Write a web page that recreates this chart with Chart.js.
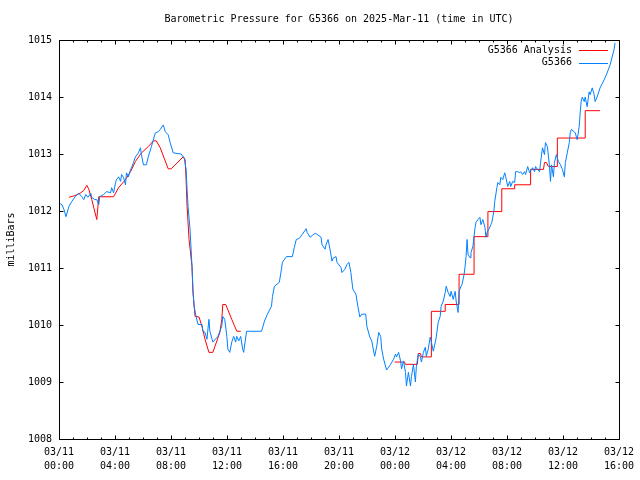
<!DOCTYPE html>
<html>
<head>
<meta charset="utf-8">
<script src="https://cdn.jsdelivr.net/npm/chart.js@4/dist/chart.umd.min.js"></script>
<style>
html,body{margin:0;padding:0;background:#fff;}
canvas{display:block;}
</style>
</head>
<body>
<canvas id="c" width="640" height="480"></canvas>
<script>
// ---- data (hours since 03/11 00:00 UTC, pressure in mb) ----
const chartTitle = "Barometric Pressure for G5366 on 2025-Mar-11 (time in UTC)";
const yAxisTitle = "milliBars";
const seriesNames = ["G5366 Analysis", "G5366"];

const xTickHours = [0, 4, 8, 12, 16, 20, 24, 28, 32, 36, 40];
const xTickDates = ["03/11", "03/11", "03/11", "03/11", "03/11", "03/11", "03/12", "03/12", "03/12", "03/12", "03/12"];
const xTickTimes = ["00:00", "04:00", "08:00", "12:00", "16:00", "20:00", "00:00", "04:00", "08:00", "12:00", "16:00"];
const yTicks = [1008, 1009, 1010, 1011, 1012, 1013, 1014, 1015];

const blueHours = [
 0.07,0.21,0.35,0.50,0.71,0.92,1.21,1.42,1.63,1.77,1.91,2.06,2.27,2.34,2.55,2.70,2.84,2.91,3.19,3.40,
 3.69,3.76,3.90,4.04,4.11,4.26,4.40,4.47,4.61,4.75,4.82,4.96,5.11,5.18,5.32,5.46,5.67,5.82,5.89,6.03,
 6.24,6.38,6.60,6.88,7.09,7.23,7.45,7.59,7.80,7.94,8.16,8.72,8.87,8.94,9.08,9.15,9.22,9.36,9.50,9.57,
 9.65,9.79,9.93,10.21,10.28,10.43,10.57,10.71,10.78,10.99,11.35,11.63,11.70,11.84,11.99,12.06,12.20,12.34,12.48,12.62,
 12.70,12.84,12.98,13.12,13.19,13.40,14.47,14.68,14.89,15.18,15.25,15.39,15.74,15.89,15.96,16.24,16.67,16.81,16.95,17.16,
 17.38,17.66,17.73,17.94,18.09,18.30,18.44,18.72,18.79,19.01,19.08,19.22,19.36,19.50,19.57,19.79,19.86,20.14,20.21,20.43,
 20.57,20.71,20.85,20.99,21.21,21.35,21.49,21.63,21.91,21.99,22.20,22.34,22.55,22.70,22.84,22.98,23.05,23.19,23.40,23.69,
 23.90,24.04,24.11,24.26,24.40,24.47,24.61,24.75,24.82,24.96,25.11,25.18,25.32,25.46,25.53,25.67,25.82,25.89,26.03,26.17,
 26.24,26.38,26.52,26.60,26.74,26.88,26.95,27.09,27.23,27.30,27.45,27.59,27.66,27.80,27.94,28.01,28.16,28.30,28.37,28.51,
 28.58,28.72,28.79,28.94,29.01,29.08,29.15,29.22,29.36,29.43,29.57,29.72,29.79,29.93,30.07,30.14,30.28,30.43,30.50,30.57,
 30.71,30.85,30.92,31.06,31.13,31.28,31.35,31.49,31.56,31.70,31.84,31.91,32.06,32.20,32.27,32.41,32.55,32.62,32.77,32.91,
 32.98,33.12,33.26,33.33,33.48,33.62,33.83,33.97,34.04,34.18,34.33,34.40,34.54,34.68,34.75,34.89,35.04,35.11,35.18,35.32,
 35.39,35.53,35.67,35.82,35.96,36.10,36.17,36.31,36.45,36.52,36.60,36.81,36.88,37.02,37.16,37.23,37.30,37.38,37.52,37.59,
 37.73,37.87,37.94,38.09,38.23,38.30,38.44,38.65,38.94,39.15,39.36,39.65,39.72
];
const bluePressure = [
 1012.13,1012.11,1012.03,1011.90,1012.08,1012.17,1012.27,1012.31,1012.25,1012.20,1012.29,1012.24,1012.31,1012.24,1012.20,1012.20,1012.11,1012.25,1012.29,1012.34,
 1012.32,1012.41,1012.32,1012.50,1012.55,1012.60,1012.52,1012.64,1012.59,1012.46,1012.67,1012.60,1012.73,1012.76,1012.85,1012.95,1013.02,1013.11,1012.99,1012.81,
 1012.81,1012.95,1013.13,1013.37,1013.39,1013.43,1013.51,1013.39,1013.34,1013.20,1013.02,1013.00,1012.95,1012.94,1012.73,1012.38,1012.08,1011.68,1011.03,1010.63,
 1010.33,1010.15,1010.01,1010.01,1009.89,1009.87,1009.75,1010.10,1009.89,1009.70,1009.80,1009.98,1010.15,1010.10,1009.80,1009.58,1009.52,1009.70,1009.80,1009.70,
 1009.80,1009.72,1009.80,1009.58,1009.52,1009.89,1009.89,1010.07,1010.19,1010.33,1010.50,1010.68,1010.75,1010.98,1011.10,1011.20,1011.20,1011.36,1011.50,1011.52,
 1011.59,1011.69,1011.62,1011.54,1011.57,1011.61,1011.59,1011.54,1011.41,1011.33,1011.41,1011.50,1011.33,1011.12,1011.17,1011.20,1011.10,1011.01,1010.92,1010.98,
 1011.06,1011.10,1010.92,1010.63,1010.54,1010.33,1010.14,1010.19,1010.19,1009.98,1009.79,1009.72,1009.45,1009.63,1009.87,1009.80,1009.58,1009.40,1009.21,1009.31,
 1009.40,1009.49,1009.44,1009.52,1009.37,1009.23,1009.37,1009.17,1008.93,1009.17,1008.93,1009.10,1009.31,1009.00,1009.28,1009.49,1009.44,1009.35,1009.52,1009.61,
 1009.45,1009.58,1009.79,1009.70,1009.54,1009.70,1009.79,1010.05,1010.15,1010.33,1010.42,1010.57,1010.68,1010.57,1010.50,1010.59,1010.45,1010.59,1010.42,1010.22,
 1010.59,1010.68,1010.71,1010.89,1011.03,1011.20,1011.50,1011.24,1011.18,1011.27,1011.38,1011.71,1011.80,1011.85,1011.89,1011.76,1011.85,1011.71,1011.54,1011.62,
 1011.68,1011.76,1011.80,1011.99,1012.17,1012.41,1012.50,1012.46,1012.59,1012.55,1012.67,1012.60,1012.43,1012.52,1012.43,1012.52,1012.50,1012.69,1012.69,1012.67,
 1012.69,1012.64,1012.69,1012.64,1012.78,1012.67,1012.76,1012.69,1012.78,1012.73,1012.69,1012.85,1013.11,1012.99,1013.20,1013.13,1012.78,1012.52,1012.81,1012.60,
 1012.85,1012.99,1012.87,1012.81,1012.73,1012.60,1012.85,1013.02,1013.20,1013.37,1013.43,1013.39,1013.37,1013.25,1013.48,1013.72,1013.92,1014.00,1013.92,1014.00,
 1013.83,1014.09,1014.04,1014.16,1014.04,1013.92,1014.00,1014.16,1014.30,1014.42,1014.56,1014.83,1014.95
];

const redHours = [
 0.71,1.13,1.56,1.77,1.99,2.13,2.34,2.70,2.84,3.90,4.26,4.75,5.11,5.46,5.89,6.38,6.74,6.95,7.23,7.80,
 8.01,8.87,9.01,9.08,9.15,9.29,9.50,9.57,9.72,10.00,10.21,10.43,10.71,10.99,11.49,11.63,11.70,11.91,12.34,12.70,
 12.98,18.00,
 23.97,24.68,24.75,25.60,25.67,25.82,25.89,26.60,26.60,27.59,27.59,28.58,28.58,29.65,29.65,30.64,30.64,31.63,31.63,32.55,
 32.55,33.69,33.69,34.61,34.68,34.82,34.96,35.60,35.60,37.59,37.59,38.65
];
const redPressure = [
 1012.24,1012.27,1012.32,1012.36,1012.45,1012.38,1012.20,1011.85,1012.25,1012.25,1012.41,1012.55,1012.69,1012.87,1013.02,1013.13,1013.23,1013.23,1013.11,1012.74,
 1012.74,1012.95,1012.90,1012.55,1012.08,1011.50,1011.03,1010.57,1010.15,1010.14,1009.98,1009.75,1009.52,1009.52,1009.87,1010.10,1010.36,1010.36,1010.10,1009.89,
 1009.89,null,
 1009.35,1009.35,1009.31,1009.31,1009.50,1009.50,1009.44,1009.44,1010.24,1010.24,1010.36,1010.36,1010.89,1010.89,1011.55,1011.55,1011.99,1011.99,1012.39,1012.39,
 1012.46,1012.46,1012.73,1012.73,1012.85,1012.85,1012.78,1012.78,1013.28,1013.28,1013.76,1013.76
];

const seriesColors = ["#ff0000", "#0080ff"];
const FONT = '"DejaVu Sans Mono", "Liberation Mono", monospace';
const minorStepHours = 1;

// ---- plugins ----
const framePlugin = {
  id: 'gnuframe',
  afterDatasetsDraw(chart) {
    const {ctx, chartArea: a, scales: {x, y}} = chart;
    ctx.save();
    ctx.strokeStyle = '#000';
    ctx.lineWidth = 1;
    const L = Math.round(a.left) + 0.5, R = Math.round(a.right) + 0.5;
    const T = Math.round(a.top) + 0.5, B = Math.round(a.bottom) + 0.5;
    ctx.beginPath();
    ctx.moveTo(L, T); ctx.lineTo(R, T); ctx.lineTo(R, B); ctx.lineTo(L, B); ctx.closePath();
    // x ticks (major every 4h, minor every hour), inward on bottom and top
    for (let h = x.min; h <= x.max + 1e-9; h += minorStepHours) {
      const px = Math.round(x.getPixelForValue(h)) + 0.5;
      const len = xTickHours.includes(h) ? 4 : 2;
      ctx.moveTo(px, B); ctx.lineTo(px, B - len);
      ctx.moveTo(px, T); ctx.lineTo(px, T + len);
    }
    // y ticks inward on left and right
    for (const v of yTicks) {
      const py = Math.round(y.getPixelForValue(v)) + 0.5;
      ctx.moveTo(L, py); ctx.lineTo(L + 4, py);
      ctx.moveTo(R, py); ctx.lineTo(R - 4, py);
    }
    ctx.stroke();
    ctx.restore();
  },
  afterDraw(chart) {
    const {ctx, chartArea: a} = chart;
    ctx.save();
    ctx.font = '10px ' + FONT;
    ctx.fillStyle = '#000';
    // title
    ctx.textAlign = 'center';
    ctx.textBaseline = 'middle';
    ctx.fillText(chartTitle, (a.left + a.right) / 2, a.top - 21);
    // legend (top right inside plot)
    chart.data.datasets.forEach((ds, i) => {
      const yy = a.top + 10 + i * 12.5;
      ctx.textAlign = 'right';
      ctx.fillStyle = '#000';
      ctx.fillText(ds.label, a.right - 47, yy);
      ctx.strokeStyle = ds.borderColor;
      ctx.lineWidth = 1;
      ctx.beginPath();
      ctx.moveTo(a.right - 40, Math.round(yy) + 0.5);
      ctx.lineTo(a.right - 11, Math.round(yy) + 0.5);
      ctx.stroke();
    });
    ctx.restore();
  }
};

Chart.defaults.font.family = FONT;
Chart.defaults.font.size = 10;
Chart.defaults.color = '#000';

new Chart(document.getElementById('c'), {
  type: 'line',
  data: {
    datasets: [
      {
        label: seriesNames[0],
        data: redHours.map((h, i) => ({x: h, y: redPressure[i]})),
        borderColor: seriesColors[0],
        borderWidth: 1,
        pointRadius: 0,
        tension: 0,
        spanGaps: false,
        order: 1
      },
      {
        label: seriesNames[1],
        data: blueHours.map((h, i) => ({x: h, y: bluePressure[i]})),
        borderColor: seriesColors[1],
        borderWidth: 1,
        pointRadius: 0,
        tension: 0,
        order: 0
      }
    ]
  },
  options: {
    responsive: false,
    animation: false,
    devicePixelRatio: 1,
    layout: {padding: {top: 40, right: 19, left: 0, bottom: 0}},
    plugins: {legend: {display: false}, title: {display: false}, tooltip: {enabled: false}},
    scales: {
      x: {
        type: 'linear',
        min: xTickHours[0],
        max: xTickHours[xTickHours.length - 1],
        afterBuildTicks: s => { s.ticks = xTickHours.map(v => ({value: v})); },
        afterFit: s => { s.height = 41; },
        grid: {display: false, drawTicks: false},
        border: {display: false},
        ticks: {
          autoSkip: false, maxRotation: 0, minRotation: 0, padding: 6,
          font: {size: 10, lineHeight: 1.4},
          callback: (v, i) => [xTickDates[i], xTickTimes[i]]
        }
      },
      y: {
        type: 'linear',
        min: yTicks[0],
        max: yTicks[yTicks.length - 1],
        afterBuildTicks: s => { s.ticks = yTicks.map(v => ({value: v})); },
        afterFit: s => { s.width = 59; },
        grid: {display: false, drawTicks: false},
        border: {display: false},
        ticks: {padding: 7, font: {size: 10}, callback: v => String(v)},
        title: {display: true, text: yAxisTitle, font: {size: 10}, padding: {top: 5, bottom: 0}}
      }
    }
  },
  plugins: [framePlugin]
});
</script>
</body>
</html>
